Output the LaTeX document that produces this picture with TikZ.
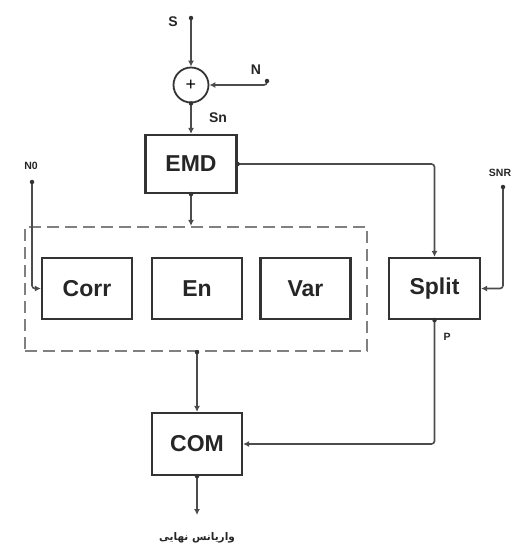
\documentclass[tikz,border=0pt]{standalone}
\usepackage{fontspec}
\setmainfont{Liberation Sans}
\newfontfamily\arabicfont[Script=Arabic]{DejaVu Sans}
\TeXXeTstate=1
\usetikzlibrary{arrows.meta}
\begin{document}
\begin{tikzpicture}[x=1pt,y=-1pt,
 blk/.style={draw=black!80, line width=2.2pt, minimum width=90pt, minimum height=60pt, font=\bfseries\fontsize{23}{23}\selectfont, text=black!85, inner sep=0pt},
 conn/.style={draw=black!70, line width=1.6pt, -{Latex[length=6pt,width=6pt]}, rounded corners=3pt},
 lbl/.style={font=\bfseries\fontsize{14}{14}\selectfont, text=black!85, inner sep=0pt},
 sml/.style={font=\bfseries\fontsize{10.5}{10.5}\selectfont, text=black!85, inner sep=0pt},
 dotc/.style={circle, fill=black!80, inner sep=0pt, minimum size=4.5pt}]
\useasboundingbox (0,0) rectangle (521,547);
% blocks
\node[blk, minimum width=91pt, minimum height=58pt] (emd) at (191,164) {EMD};
\node[circle, draw=black!80, line width=1.8pt, minimum size=35pt, inner sep=0pt, font=\fontsize{18}{18}\selectfont] (sum) at (191,85) {+};
\node[draw=black!50, line width=2.2pt, dash pattern=on 12pt off 6pt, minimum width=342pt, minimum height=124pt, inner sep=0pt] (grp) at (196,289) {};
\node[blk, minimum height=61pt] (corr) at (87,288.5) {Corr};
\node[blk, minimum height=61pt] (en) at (197,288.5) {En};
\node[blk, minimum height=61pt] (var) at (305.5,288.5) {Var};
\node[blk, minimum height=61pt, minimum width=91pt] (split) at (434.5,288.5) {Split};
\node[blk, minimum height=62pt] (com) at (197,444) {COM};
% free ends
\coordinate (s) at (191,18);
\coordinate (n) at (267,81);
\coordinate (n0) at (32,182);
\coordinate (snr) at (503,187);
\coordinate (out) at (197,515);
% labels
\node[lbl] (ls) at (173,22) {S};
\node[lbl] (ln) at (256,70) {N};
\node[lbl] (lsn) at (218,118) {Sn};
\node[sml] (ln0) at (31,166) {N0};
\node[sml] (lsnr) at (500,173) {SNR};
\node[sml] (lp) at (447,337) {P};
\node[font=\arabicfont\bfseries\fontsize{10.5}{10.5}\selectfont, text=black!85, inner sep=0pt] (lres) at (197,538) {\beginR واریانس نهایی\endR};
% connectors
\draw[conn] (s) -- (sum.north);
\draw[conn] (n) |- (sum.east);
\draw[conn] (sum.south) -- (emd.north);
\draw[conn] (emd.south) -- (emd.south |- grp.north);
\draw[conn] (emd.east) -| (split.north);
\draw[conn] (snr) |- (split.east);
\draw[conn] (n0) |- (corr.west);
\draw[conn] (com.north |- grp.south) -- (com.north);
\draw[conn] (split.south) |- (com.east);
\draw[conn] (com.south) -- (out);
% connection dots
\foreach \p in {s,n,n0,snr,emd.south,emd.east,split.south,com.south,sum.south}
  \node[dotc] at (\p) {};
\node[dotc] at (com.north |- grp.south) {};
\end{tikzpicture}
\end{document}
